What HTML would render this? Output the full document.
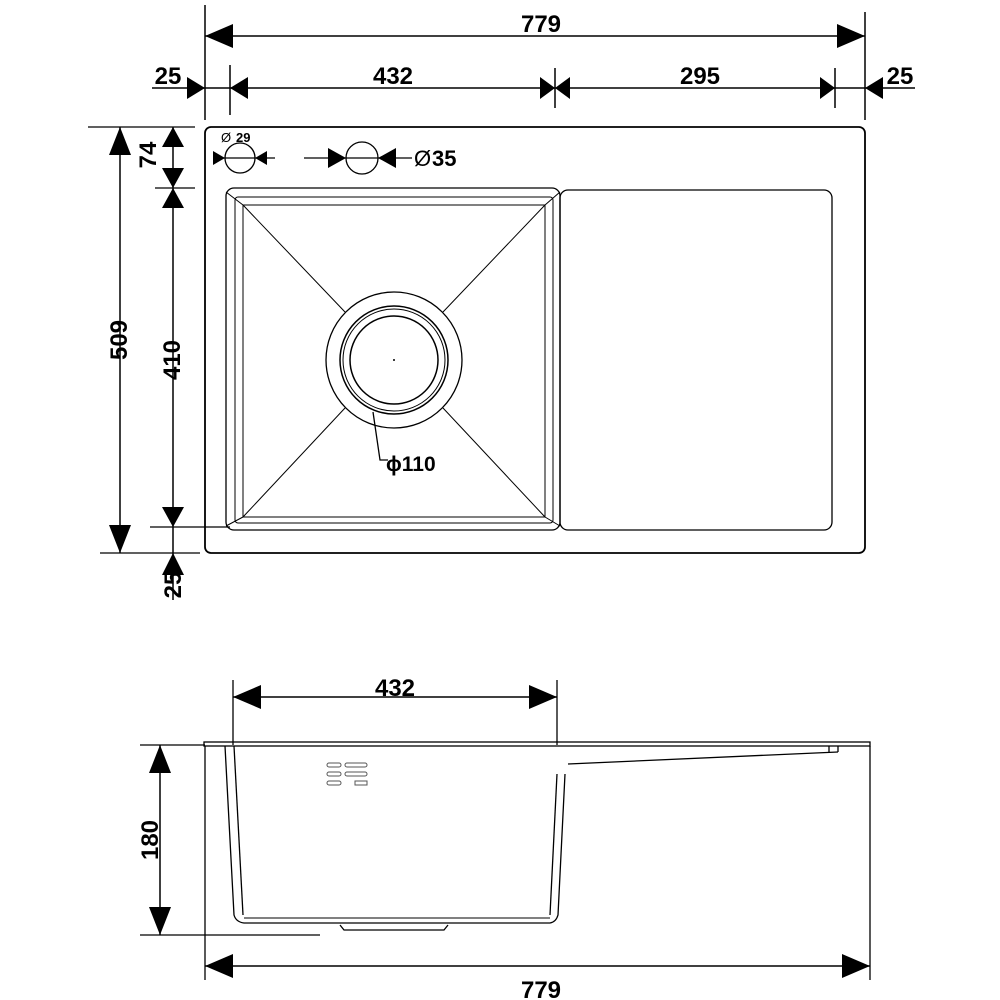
<!DOCTYPE html>
<html><head><style>html,body{margin:0;padding:0;background:#fff}svg{display:block}</style></head><body>
<svg width="1000" height="1000" viewBox="0 0 1000 1000" xmlns="http://www.w3.org/2000/svg" font-family="Liberation Sans, sans-serif" font-weight="bold">
<g stroke="#000" stroke-width="1.5" fill="none">
<line x1="205" y1="5" x2="205" y2="120"/>
<line x1="865" y1="12" x2="865" y2="120"/>
<line x1="230" y1="65" x2="230" y2="115"/>
<line x1="555" y1="68" x2="555" y2="108"/>
<line x1="835" y1="68" x2="835" y2="108"/>
<line x1="205" y1="36" x2="865" y2="36"/>
<line x1="152" y1="88" x2="915" y2="88"/>
</g>
<g fill="#000">
<path d="M205,36l28,-12v24z"/><path d="M865,36l-28,-12v24z"/>
<path d="M205,88l-18,-11v22z"/><path d="M230,88l18,-11v22z"/>
<path d="M555,88l-15,-11v22z"/><path d="M555,88l15,-11v22z"/>
<path d="M835,88l-15,-11v22z"/><path d="M865,88l18,-11v22z"/>
</g>
<g font-size="24" text-anchor="middle">
<text x="541" y="32">779</text>
<text x="168" y="84">25</text>
<text x="393" y="84">432</text>
<text x="700" y="84">295</text>
<text x="900" y="84">25</text>
</g>
<g stroke="#000" fill="none">
<rect x="205" y="127" width="660" height="426" rx="6" stroke-width="1.8"/>
<rect x="226" y="188" width="334" height="342" rx="8" stroke-width="1.3"/>
<rect x="235" y="197" width="318" height="326" rx="3" stroke-width="1"/>
<rect x="243" y="205" width="302" height="312" stroke-width="1"/>
<rect x="560" y="190" width="272" height="340" rx="8" stroke-width="1.3"/>
<line x1="226" y1="192" x2="243" y2="205"/><line x1="560" y1="192" x2="545" y2="205"/>
<line x1="226" y1="526" x2="243" y2="517"/><line x1="560" y1="526" x2="545" y2="517"/>
<line x1="243" y1="205" x2="345" y2="312"/><line x1="545" y1="205" x2="443" y2="312"/>
<line x1="243" y1="517" x2="345" y2="408"/><line x1="545" y1="517" x2="443" y2="408"/>
<circle cx="394" cy="360" r="68" fill="#fff" stroke-width="1.3"/>
<circle cx="394" cy="360" r="54" stroke-width="1.5"/>
<circle cx="394" cy="360" r="51" stroke-width="1"/>
<circle cx="394" cy="360" r="44" stroke-width="1.5"/>
<polyline points="373,412 380,460 388,460" stroke-width="1.3"/>
<circle cx="240" cy="158" r="15" stroke-width="1.3"/>
<circle cx="362" cy="158" r="16" stroke-width="1.3"/>
<line x1="218" y1="158" x2="275" y2="158" stroke-width="1.3"/>
<line x1="304" y1="158" x2="412" y2="158" stroke-width="1.3"/>
<line x1="88" y1="127" x2="195" y2="127" stroke-width="1.3"/>
<line x1="100" y1="553" x2="200" y2="553" stroke-width="1.3"/>
<line x1="155" y1="188" x2="195" y2="188" stroke-width="1.3"/>
<line x1="150" y1="527" x2="230" y2="527" stroke-width="1.3"/>
<line x1="120" y1="127" x2="120" y2="553" stroke-width="1.5"/>
<line x1="173" y1="127" x2="173" y2="600" stroke-width="1.5"/>
</g>
<circle cx="394" cy="360" r="1" fill="#000"/>
<g fill="#000">
<path d="M225,158l-12,-7v14z"/><path d="M255,158l12,-7v14z"/>
<path d="M346,158l-18,-10v20z"/><path d="M378,158l18,-10v20z"/>
<path d="M120,127l-11,28h22z"/><path d="M120,553l-11,-28h22z"/>
<path d="M173,127l-11,20h22z"/><path d="M173,188l-11,-20h22z"/>
<path d="M173,188l-11,20h22z"/><path d="M173,527l-11,-20h22z"/>
<path d="M173,553l-11,22h22z"/>
</g>
<text x="221" y="142" font-size="13" font-weight="normal">Ø</text>
<text x="236" y="142" font-size="13">29</text>
<text x="414" y="166" font-size="22" font-weight="normal">Ø</text>
<text x="432" y="166" font-size="22">35</text>
<text x="386" y="471" font-size="21">ϕ110</text>
<g font-size="24" text-anchor="middle">
<text transform="translate(127,340) rotate(-90)">509</text>
<text transform="translate(180,360) rotate(-90)">410</text>
<text transform="translate(156,155) rotate(-90)">74</text>
<text transform="translate(181,585) rotate(-90)">25</text>
</g>
<g stroke="#000" fill="none" stroke-width="1.3">
<line x1="233" y1="680" x2="233" y2="745"/>
<line x1="557" y1="680" x2="557" y2="745"/>
<line x1="233" y1="697" x2="557" y2="697" stroke-width="1.5"/>
<rect x="204" y="742" width="666" height="4" stroke-width="1.3"/>
<path d="M225,746L234,915Q236,922 244,923L550,923Q556,922 558,915L565,774"/>
<path d="M234,746L243,915"/>
<path d="M557,774L550,915"/>
<line x1="244" y1="918" x2="550" y2="918" stroke-width="1"/>
<path d="M340,925L344,930L444,930L448,925"/>
<path d="M568,764L838,752"/>
<path d="M829,746L829,752M838,746L838,752"/>
<line x1="140" y1="745" x2="205" y2="745"/>
<line x1="140" y1="935" x2="320" y2="935"/>
<line x1="160" y1="745" x2="160" y2="935" stroke-width="1.5"/>
<line x1="205" y1="746" x2="205" y2="980"/>
<line x1="870" y1="746" x2="870" y2="980"/>
<line x1="205" y1="966" x2="870" y2="966" stroke-width="1.5"/>
</g>
<g stroke="#555" fill="none" stroke-width="1">
<rect x="327" y="763" width="14" height="4" rx="2"/><rect x="345" y="763" width="22" height="4" rx="2"/>
<rect x="327" y="772" width="14" height="4" rx="2"/><rect x="345" y="772" width="22" height="4" rx="2"/>
<rect x="327" y="781" width="14" height="4" rx="2"/><rect x="355" y="781" width="12" height="4"/>
</g>
<g fill="#000">
<path d="M233,697l28,-12v24z"/><path d="M557,697l-28,-12v24z"/>
<path d="M160,745l-11,28h22z"/><path d="M160,935l-11,-28h22z"/>
<path d="M205,966l28,-12v24z"/><path d="M870,966l-28,-12v24z"/>
</g>
<g font-size="24" text-anchor="middle">
<text x="395" y="696">432</text>
<text transform="translate(158,840) rotate(-90)">180</text>
<text x="541" y="998">779</text>
</g>
</svg>
</body></html>
